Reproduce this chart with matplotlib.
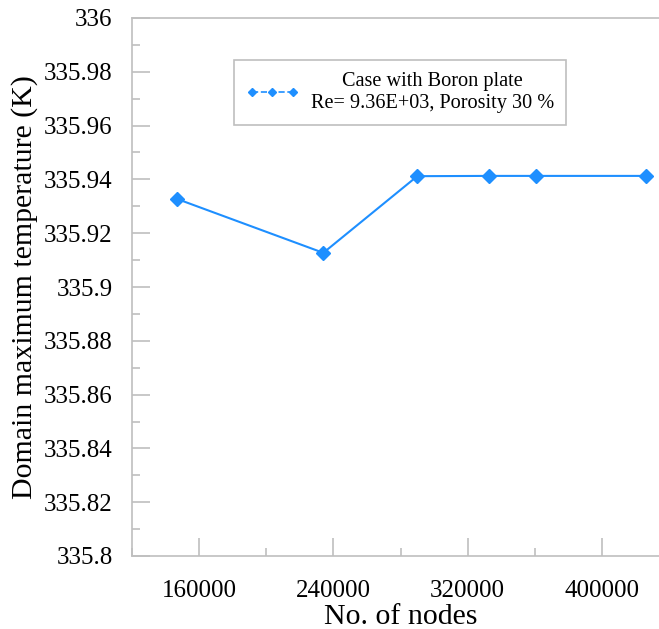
import numpy as np
import matplotlib.pyplot as plt
from matplotlib.lines import Line2D
from matplotlib.ticker import MultipleLocator

plt.rcParams['font.family'] = ['Liberation Serif', 'DejaVu Serif']
plt.rcParams['font.serif'] = ['Liberation Serif', 'DejaVu Serif']

nodes = [147000, 234000, 290000, 333000, 361000, 426000]
temp = [335.9327, 335.9127, 335.9412, 335.9413, 335.9413, 335.9413]
label = "Case with Boron plate\nRe= 9.36E+03, Porosity 30 %"
yticks = ['335.8', '335.82', '335.84', '335.86', '335.88', '335.9',
          '335.92', '335.94', '335.96', '335.98', '336']
xticks = [160000, 240000, 320000, 400000]

blue = '#1e8fff'
grey = '#bfbfbf'
serif = ['Liberation Serif', 'DejaVu Serif']

fig = plt.figure(figsize=(6.59, 6.29), dpi=100)
ax = fig.add_axes([132/659, 73/629, 537/659, 538/629])

ax.plot(nodes, temp, color=blue, lw=1.5, marker='D', markersize=7)

ax.set_xlim(120000, 440000)
ax.set_ylim(335.8, 336.0)
ax.xaxis.set_minor_locator(MultipleLocator(40000))
ax.yaxis.set_minor_locator(MultipleLocator(0.01))
ax.set_yticks(np.linspace(335.8, 336.0, 11))
ax.set_yticklabels(yticks, family=serif, fontsize=18)
ax.set_xticks(xticks)
ax.set_xticklabels([str(v) for v in xticks], family=serif, fontsize=18)

for s in ['top', 'left', 'bottom']:
    ax.spines[s].set_color(grey)
    ax.spines[s].set_linewidth(1.2)
ax.spines['right'].set_visible(False)

ax.tick_params(which='both', direction='in', color=grey, width=1.2)
ax.tick_params(axis='y', which='both', pad=14)
ax.tick_params(axis='x', which='both', pad=17)
ax.tick_params(which='major', length=13)
ax.tick_params(which='minor', length=6)

ax.set_xlabel('No. of nodes', fontsize=21.5, family=serif, labelpad=1.5)
ax.set_ylabel('Domain maximum temperature (K)', fontsize=21.5, family=serif, labelpad=4)

handle = Line2D([], [], color=blue, ls='--', lw=1.2, marker='D', markersize=4)
leg = ax.legend([handle], [label], loc='center', bbox_to_anchor=(400/659, 1 - 92.5/629),
                bbox_transform=fig.transFigure, prop={'family': serif, 'size': 14.6},
                numpoints=3, handlelength=2.6, fancybox=False, framealpha=1,
                edgecolor=grey, borderpad=0.6, handletextpad=0.6)
leg.get_frame().set_linewidth(1.2)
for t in leg.get_texts():
    t.set_multialignment('center')

fig.savefig('out.png', dpi=100)
